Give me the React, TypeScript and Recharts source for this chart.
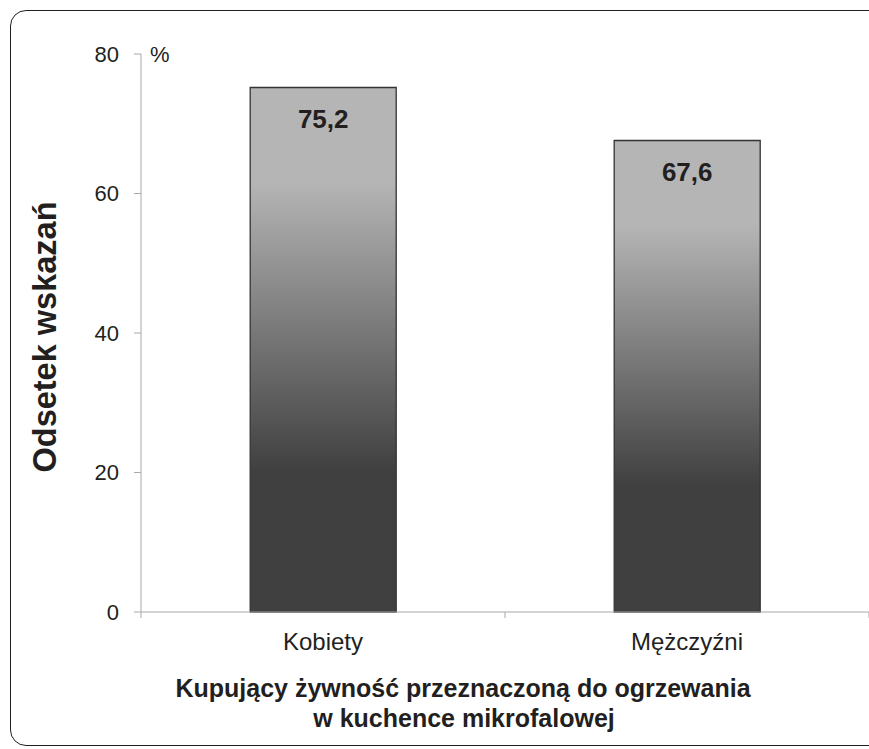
import { BarChart, Bar, XAxis, YAxis, LabelList, Label } from 'recharts'

const categories = ['Kobiety', 'Mężczyźni']
const values = [75.2, 67.6]
const yTicks = [0, 20, 40, 60, 80]

const data = categories.map((name, i) => ({ name, value: values[i] }))

const FONT = '"Liberation Sans", Arial, Helvetica, sans-serif'
const INK = '#231f20'
const AXIS = '#a8a8a8'
const CHART_W = 869
const AXIS_W = 141
const band = (CHART_W - AXIS_W) / categories.length

function CategoryTick({ x, y, payload, index }: { x?: number; y?: number; payload?: { value: string }; index?: number }) {
  const cx = x ?? 0
  const cy = y ?? 0
  const isLast = index === categories.length - 1
  return (
    <g>
      <line x1={cx - band / 2} x2={cx - band / 2} y1={cy} y2={cy + 6} stroke={AXIS} />
      {isLast && <line x1={cx + band / 2} x2={cx + band / 2} y1={cy} y2={cy + 6} stroke={AXIS} />}
      <text x={cx} y={cy + 38} textAnchor="middle" fill={INK} fontSize={24} fontFamily={FONT}>
        {payload?.value}
      </text>
    </g>
  )
}

function ValueLabel(props: { x?: number | string; y?: number | string; width?: number | string; value?: number | string }) {
  const x = Number(props.x) + Number(props.width) / 2
  const y = Number(props.y) + 41
  return (
    <text x={x} y={y} textAnchor="middle" fill={INK} fontSize={26} fontWeight="bold" fontFamily={FONT}>
      {String(props.value).replace('.', ',')}
    </text>
  )
}

export default function App() {
  return (
    <div style={{ position: 'fixed', left: 0, top: 0, width: 869, height: 749, overflow: 'hidden', background: '#fff' }}>
      <div
        style={{
          position: 'absolute',
          left: 10,
          top: 10,
          width: 920,
          height: 736,
          boxSizing: 'border-box',
          border: `1.5px solid ${INK}`,
          borderRadius: 16,
        }}
      />
      <div style={{ position: 'absolute', left: 0, top: 0 }}>
        <BarChart
          width={CHART_W}
          height={749}
          data={data}
          margin={{ top: 54, right: 0, bottom: 77, left: 0 }}
          barCategoryGap="30%"
        >
          <defs>
            <linearGradient id="barGrad" x1="0" y1="0" x2="0" y2="1">
              <stop offset="0" stopColor="#b5b5b5" />
              <stop offset="0.18" stopColor="#b5b5b5" />
              <stop offset="0.73" stopColor="#404040" />
              <stop offset="1" stopColor="#404040" />
            </linearGradient>
          </defs>
          <XAxis
            dataKey="name"
            height={60}
            interval={0}
            axisLine={{ stroke: AXIS }}
            tickLine={false}
            tickSize={0}
            tickMargin={0}
            tick={<CategoryTick />}
          >
            <Label
              content={() => (
                <g>
                  <text x={463} y={697} textAnchor="middle" fill={INK} fontSize={25} fontWeight="bold" fontFamily={FONT}>
                    Kupujący żywność przeznaczoną do ogrzewania
                  </text>
                  <text x={464} y={727} textAnchor="middle" fill={INK} fontSize={25} fontWeight="bold" fontFamily={FONT}>
                    w kuchence mikrofalowej
                  </text>
                </g>
              )}
            />
          </XAxis>
          <YAxis
            width={AXIS_W}
            domain={[0, 80]}
            ticks={yTicks}
            interval={0}
            axisLine={{ stroke: AXIS }}
            tickLine={{ stroke: AXIS }}
            tickSize={7}
            tickMargin={15}
            tick={{ fill: INK, fontSize: 22, fontFamily: FONT }}
          >
            <Label
              content={() => (
                <g>
                  <text
                    x={45}
                    y={337}
                    transform="rotate(-90, 45, 337)"
                    textAnchor="middle"
                    dominantBaseline="central"
                    fill={INK}
                    fontSize={32.5}
                    fontWeight="bold"
                    fontFamily={FONT}
                  >
                    Odsetek wskazań
                  </text>
                  <text x={150} y={62} fill={INK} fontSize={22} fontFamily={FONT}>
                    %
                  </text>
                </g>
              )}
            />
          </YAxis>
          <Bar dataKey="value" fill="url(#barGrad)" stroke="#333" strokeWidth={1.3} isAnimationActive={false}>
            <LabelList dataKey="value" content={ValueLabel} />
          </Bar>
        </BarChart>
      </div>
    </div>
  )
}
